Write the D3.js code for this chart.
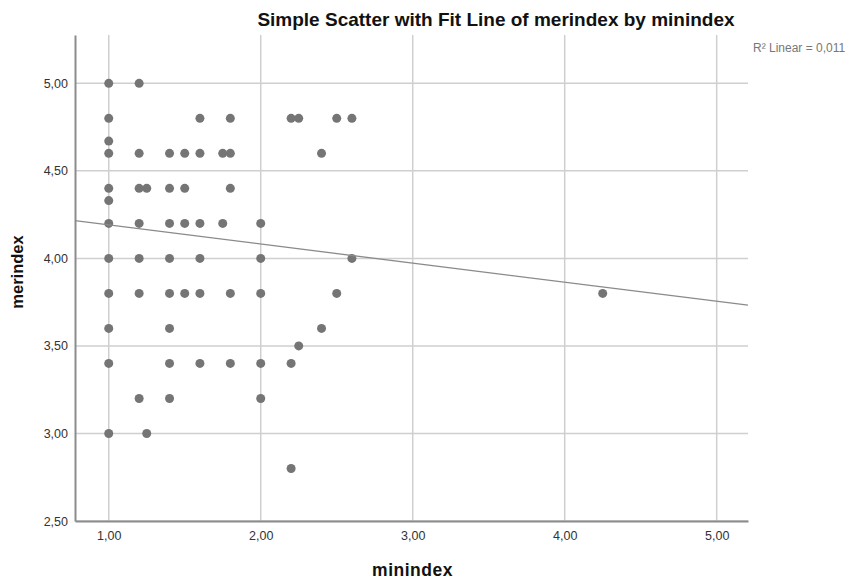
<!DOCTYPE html>
<html lang="en">
<head>
    <meta charset="UTF-8">
    <title>Simple Scatter with Fit Line</title>
    <script src="https://d3js.org/d3.v7.min.js"></script>
    <style>
        body { margin: 0; background: #fff; }
        text { font-family: Arial, "Liberation Sans", sans-serif; }
    </style>
</head>
<body>
    <svg width="852" height="581"></svg>

    <script>
        // points (overplotted duplicates show as one dot)
        const minindex = [
            1.00, 1.20,
            1.00, 1.60, 1.80, 2.20, 2.25, 2.50, 2.60,
            1.00,
            1.00, 1.20, 1.40, 1.50, 1.60, 1.75, 1.80, 2.40,
            1.00, 1.20, 1.25, 1.40, 1.50, 1.80,
            1.00,
            1.00, 1.20, 1.40, 1.50, 1.60, 1.75, 2.00,
            1.00, 1.20, 1.40, 1.60, 2.00, 2.60,
            1.00, 1.20, 1.40, 1.50, 1.60, 1.80, 2.00, 2.50, 4.25,
            1.00, 1.40, 2.40,
            2.25,
            1.00, 1.40, 1.60, 1.80, 2.00, 2.20,
            1.20, 1.40, 2.00,
            1.00, 1.25,
            2.20
        ];
        const merindex = [
            5.00, 5.00,
            4.80, 4.80, 4.80, 4.80, 4.80, 4.80, 4.80,
            4.67,
            4.60, 4.60, 4.60, 4.60, 4.60, 4.60, 4.60, 4.60,
            4.40, 4.40, 4.40, 4.40, 4.40, 4.40,
            4.33,
            4.20, 4.20, 4.20, 4.20, 4.20, 4.20, 4.20,
            4.00, 4.00, 4.00, 4.00, 4.00, 4.00,
            3.80, 3.80, 3.80, 3.80, 3.80, 3.80, 3.80, 3.80, 3.80,
            3.60, 3.60, 3.60,
            3.50,
            3.40, 3.40, 3.40, 3.40, 3.40, 3.40,
            3.20, 3.20, 3.20,
            3.00, 3.00,
            2.80
        ];

        const xTicks = [1, 2, 3, 4, 5];
        const yTicks = [2.5, 3, 3.5, 4, 4.5, 5];

        // linear fit as shown on the chart
        const fitIntercept = 4.30;
        const fitSlope = -0.109;
        const rSquared = "0,011";

        const data = minindex.map((x, i) => ({ x: x, y: merindex[i] }));

        const fmt = d => d3.format(".2f")(d).replace(".", ",");

        const plotLeft = 75, plotRight = 748, plotTop = 35, plotBottom = 521;

        const svg = d3.select("svg");

        const xScale = d3.scaleLinear().domain([0.778, 5.206]).range([plotLeft, plotRight]);
        const yScale = d3.scaleLinear().domain([2.5, 5.276]).range([plotBottom, plotTop]);

        // grid lines
        svg.append("g")
           .selectAll("line")
           .data(xTicks)
           .enter()
           .append("line")
           .attr("x1", d => xScale(d))
           .attr("x2", d => xScale(d))
           .attr("y1", plotTop)
           .attr("y2", plotBottom)
           .attr("stroke", "#cfcfcf")
           .attr("stroke-width", 1.5);

        svg.append("g")
           .selectAll("line")
           .data(yTicks)
           .enter()
           .append("line")
           .attr("x1", plotLeft)
           .attr("x2", plotRight)
           .attr("y1", d => yScale(d))
           .attr("y2", d => yScale(d))
           .attr("stroke", "#cfcfcf")
           .attr("stroke-width", 1.5);

        // axes without tick marks
        const xAxis = svg.append("g")
           .attr("transform", `translate(0,${plotBottom})`)
           .call(d3.axisBottom(xScale).tickValues(xTicks).tickFormat(fmt).tickSize(0).tickPadding(10));
        xAxis.select(".domain").attr("stroke", "#8c8c8c").attr("stroke-width", 2);

        const yAxis = svg.append("g")
           .attr("transform", `translate(${plotLeft},0)`)
           .call(d3.axisLeft(yScale).tickValues(yTicks).tickFormat(fmt).tickSize(0).tickPadding(7));
        yAxis.select(".domain").attr("stroke", "#8c8c8c").attr("stroke-width", 2);

        svg.selectAll(".tick text")
           .attr("fill", "#333")
           .style("font-size", "12.5px")
           .style("font-family", "Arial, 'Liberation Sans', sans-serif");

        // points
        svg.selectAll("circle")
           .data(data)
           .enter()
           .append("circle")
           .attr("cx", d => xScale(d.x))
           .attr("cy", d => yScale(d.y))
           .attr("r", 4.5)
           .attr("fill", "#757575");

        // fit line
        const xs = xScale.domain();
        svg.append("line")
           .attr("x1", xScale(xs[0]))
           .attr("y1", yScale(fitIntercept + fitSlope * xs[0]))
           .attr("x2", xScale(xs[1]))
           .attr("y2", yScale(fitIntercept + fitSlope * xs[1]))
           .attr("stroke", "#8a8a8a")
           .attr("stroke-width", 1.3);

        // title
        svg.append("text")
           .attr("x", 496)
           .attr("y", 26)
           .attr("text-anchor", "middle")
           .style("font-size", "19px")
           .style("font-weight", "bold")
           .attr("fill", "#111")
           .text("Simple Scatter with Fit Line of merindex by minindex");

        svg.append("text")
           .attr("x", 753)
           .attr("y", 51.5)
           .style("font-size", "12px")
           .attr("fill", "#777")
           .text("R\u00B2 Linear = " + rSquared);

        // axis titles
        svg.append("text")
           .attr("x", 412.5)
           .attr("y", 576)
           .attr("text-anchor", "middle")
           .style("font-size", "17.5px")
           .style("letter-spacing", "0.5px")
           .style("font-weight", "bold")
           .attr("fill", "#111")
           .text("minindex");

        svg.append("text")
           .attr("transform", "translate(23,272) rotate(-90)")
           .attr("text-anchor", "middle")
           .style("font-size", "16.5px")
           .style("font-weight", "bold")
           .attr("fill", "#111")
           .text("merindex");
    </script>
</body>
</html>
